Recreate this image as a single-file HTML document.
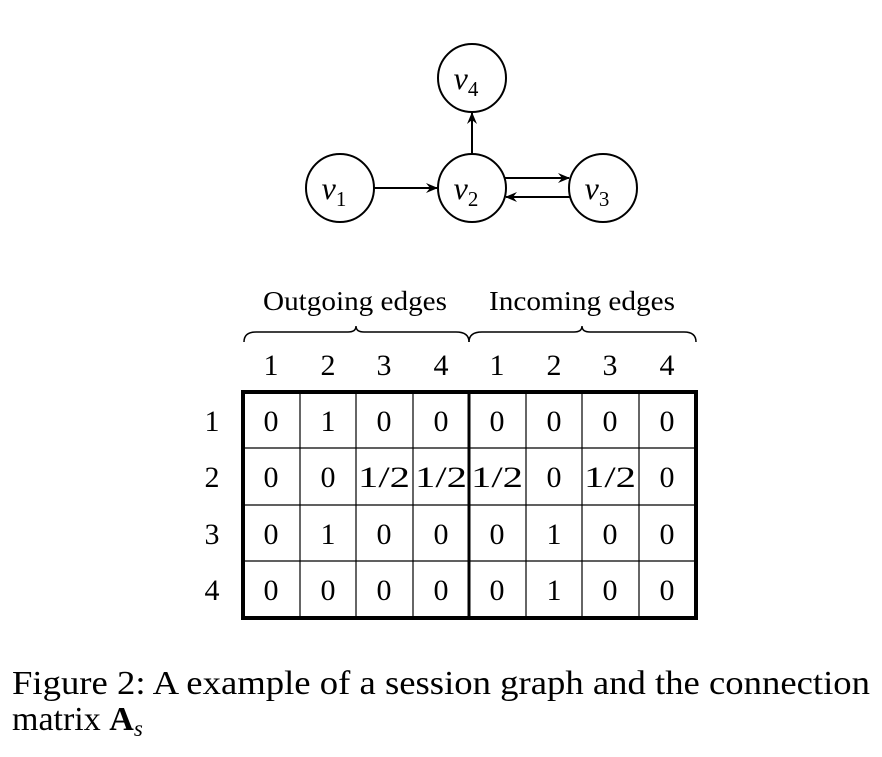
<!DOCTYPE html>
<html><head><meta charset="utf-8"><style>
body{margin:0;background:#fff;width:882px;height:752px;overflow:hidden}
</style></head><body>
<svg width="882" height="752" xmlns="http://www.w3.org/2000/svg" font-family="Liberation Serif, serif">
<defs><marker id="a" markerWidth="12" markerHeight="10" refX="11" refY="5" orient="auto" markerUnits="userSpaceOnUse"><path d="M0,0 L12,5 L0,10 L4,5z" fill="#000"/></marker></defs>
<g fill="none" stroke="#000" stroke-width="2">
<circle cx="472" cy="78" r="34"/><circle cx="340" cy="188" r="34"/><circle cx="472" cy="188" r="34"/><circle cx="603" cy="188" r="34"/>
<line x1="374" y1="188" x2="437" y2="188" marker-end="url(#a)"/>
<line x1="472" y1="154" x2="472" y2="113" marker-end="url(#a)"/>
<line x1="504" y1="178" x2="569" y2="178" marker-end="url(#a)"/>
<line x1="570" y1="197" x2="506" y2="197" marker-end="url(#a)"/>
</g>
<g font-style="italic" font-size="32" text-anchor="middle">
<text x="466" y="89">v<tspan font-size="21" font-style="normal" dy="7">4</tspan></text>
<text x="334" y="199">v<tspan font-size="21" font-style="normal" dy="7">1</tspan></text>
<text x="466" y="199">v<tspan font-size="21" font-style="normal" dy="7">2</tspan></text>
<text x="597" y="199">v<tspan font-size="21" font-style="normal" dy="7">3</tspan></text>
</g>
<g font-size="27">
<text x="263" y="310" textLength="184" lengthAdjust="spacingAndGlyphs">Outgoing edges</text>
<text x="489" y="310" textLength="186" lengthAdjust="spacingAndGlyphs">Incoming edges</text>
</g>
<g fill="none" stroke="#000" stroke-width="1.5">
<path d="M244,342 Q244,332 256,332 L348,332 Q356,332 356,326 Q356,332 364,332 L456,332 Q469,332 469,342"/>
<path d="M469,342 Q469,332 482,332 L574,332 Q582,332 582,326 Q582,332 590,332 L684,332 Q696,332 696,342"/>
</g>
<g font-size="30" text-anchor="middle">
<text x="271" y="375">1</text><text x="328" y="375">2</text><text x="384" y="375">3</text><text x="441" y="375">4</text>
<text x="497" y="375">1</text><text x="554" y="375">2</text><text x="610" y="375">3</text><text x="667" y="375">4</text>
<text x="212" y="431">1</text><text x="212" y="487">2</text><text x="212" y="544">3</text><text x="212" y="600">4</text>
</g>
<g stroke="#000" stroke-width="1.2">
<line x1="300" y1="392" x2="300" y2="618"/><line x1="356" y1="392" x2="356" y2="618"/><line x1="413" y1="392" x2="413" y2="618"/>
<line x1="526" y1="392" x2="526" y2="618"/><line x1="582" y1="392" x2="582" y2="618"/><line x1="639" y1="392" x2="639" y2="618"/>
<line x1="243" y1="448" x2="696" y2="448"/><line x1="243" y1="505" x2="696" y2="505"/><line x1="243" y1="561" x2="696" y2="561"/>
</g>
<line x1="469" y1="392" x2="469" y2="618" stroke="#000" stroke-width="3"/>
<rect x="243" y="392" width="453" height="226" fill="none" stroke="#000" stroke-width="4"/>
<g font-size="30" text-anchor="middle">
<text x="271" y="431">0</text><text x="328" y="431">1</text><text x="384" y="431">0</text><text x="441" y="431">0</text><text x="497" y="431">0</text><text x="554" y="431">0</text><text x="610" y="431">0</text><text x="667" y="431">0</text>
<text x="271" y="487">0</text><text x="328" y="487">0</text><text x="384" y="487" textLength="52" lengthAdjust="spacingAndGlyphs">1/2</text><text x="441" y="487" textLength="52" lengthAdjust="spacingAndGlyphs">1/2</text><text x="497" y="487" textLength="52" lengthAdjust="spacingAndGlyphs">1/2</text><text x="554" y="487">0</text><text x="610" y="487" textLength="52" lengthAdjust="spacingAndGlyphs">1/2</text><text x="667" y="487">0</text>
<text x="271" y="544">0</text><text x="328" y="544">1</text><text x="384" y="544">0</text><text x="441" y="544">0</text><text x="497" y="544">0</text><text x="554" y="544">1</text><text x="610" y="544">0</text><text x="667" y="544">0</text>
<text x="271" y="600">0</text><text x="328" y="600">0</text><text x="384" y="600">0</text><text x="441" y="600">0</text><text x="497" y="600">0</text><text x="554" y="600">1</text><text x="610" y="600">0</text><text x="667" y="600">0</text>
</g>
<g font-size="34">
<text x="12" y="694" textLength="858" lengthAdjust="spacingAndGlyphs">Figure 2: A example of a session graph and the connection</text>
<text x="12" y="730">matrix <tspan font-weight="bold">A</tspan><tspan font-style="italic" font-size="23" dy="6">s</tspan></text>
</g>
</svg>
</body></html>
